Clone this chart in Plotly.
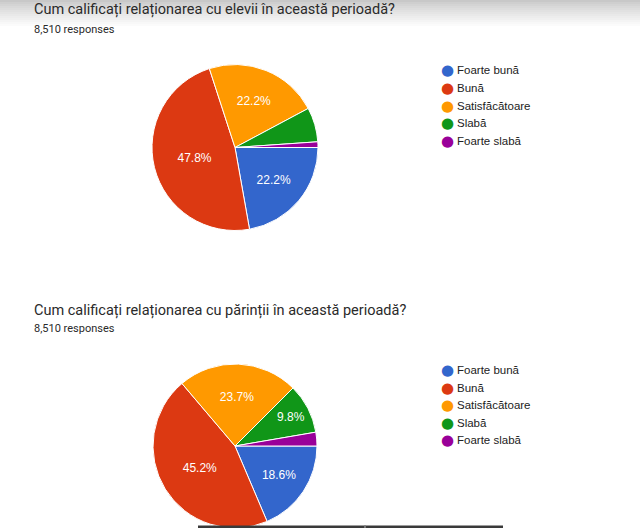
import plotly.graph_objects as go

W, H = 640, 528

categories = ["Foarte bună", "Bună", "Satisfăcătoare", "Slabă", "Foarte slabă"]
colors = ["#3366CC", "#DC3912", "#FF9900", "#109618", "#990099"]

title1 = "Cum calificați relaționarea cu elevii în această perioadă?"
title2 = "Cum calificați relaționarea cu părinții în această perioadă?"
responses1 = "8,510 responses"
responses2 = "8,510 responses"

elevi_pct = [22.2, 47.8, 22.2, 6.7, 1.1]
parinti_pct = [18.6, 45.2, 23.7, 9.8, 2.7]

LABEL_MIN = 7.5  # slices smaller than this show no label


def px_x(x):
    return x / W


def px_y(y):
    return 1 - y / H


def labels_for(vals):
    return [f"{v:.1f}%" if v >= LABEL_MIN else "" for v in vals]


fig = go.Figure()

# pie 1: center (235,147.5), r 83
fig.add_trace(go.Pie(
    labels=categories, values=elevi_pct, text=labels_for(elevi_pct),
    textinfo="text", sort=False, direction="clockwise", rotation=90,
    marker=dict(colors=colors, line=dict(color="white", width=1)),
    textfont=dict(family="Arial", size=12, color="white"),
    insidetextorientation="horizontal", textposition="inside",
    domain=dict(x=[px_x(152), px_x(318)], y=[px_y(230.5), px_y(64.5)]),
    showlegend=False, hoverinfo="label+percent",
))

# pie 2: center (235,446), r ~82
fig.add_trace(go.Pie(
    labels=categories, values=parinti_pct, text=labels_for(parinti_pct),
    textinfo="text", sort=False, direction="clockwise", rotation=90,
    marker=dict(colors=colors, line=dict(color="white", width=1)),
    textfont=dict(family="Arial", size=12, color="white"),
    insidetextorientation="horizontal", textposition="inside",
    domain=dict(x=[px_x(152), px_x(318)], y=[0, px_y(364)]),
    showlegend=False, hoverinfo="label+percent",
))

shapes = []
# top shadow gradient
grad_steps = 13
for i in range(grad_steps):
    g = int(200 + (255 - 200) * (i / grad_steps) ** 0.8)
    shapes.append(dict(type="rect", xref="paper", yref="paper",
                       x0=0, x1=1, y0=px_y(i * 2 + 2), y1=px_y(i * 2),
                       fillcolor=f"rgb({g},{g},{g})", line=dict(width=0),
                       layer="below"))
# bottom dark bar
shapes.append(dict(type="rect", xref="paper", yref="paper",
                   x0=px_x(198), x1=px_x(503), y0=0, y1=px_y(525.5),
                   fillcolor="#3a3a3a", line=dict(width=0), layer="above"))
shapes.append(dict(type="rect", xref="paper", yref="paper",
                   x0=px_x(364), x1=px_x(366), y0=0, y1=px_y(525.5),
                   fillcolor="#777777", line=dict(width=0), layer="above"))

annotations = []


def add_text(x, y, text, size, color="#202124", family="Roboto"):
    annotations.append(dict(x=px_x(x), y=px_y(y), xref="paper", yref="paper",
                            text=text, showarrow=False, xanchor="left",
                            yanchor="middle",
                            font=dict(family=family, size=size, color=color)))


add_text(32, 10, title1, 14.5, color="#2a2a2a")
add_text(32, 29, responses1, 11, color="#2a2a2a")
add_text(32, 310, title2, 14.5, color="#2a2a2a")
add_text(32, 328, responses2, 11, color="#2a2a2a")

legend_rows1 = [70, 88, 105.5, 123, 140.5]
legend_rows2 = [370, 387.5, 405, 422.5, 440]
for rows in (legend_rows1, legend_rows2):
    for cat, col, y in zip(categories, colors, rows):
        annotations.append(dict(x=px_x(439), y=px_y(y), xref="paper", yref="paper",
                                text=f"<span style='color:{col}'>●</span>",
                                showarrow=False, xanchor="left", yanchor="middle",
                                font=dict(family="DejaVu Sans", size=15, color=col)))
        add_text(455, y, cat, 11.5, color="#222222", family="Arial")

fig.update_layout(
    width=W, height=H,
    margin=dict(l=0, r=0, t=0, b=0),
    paper_bgcolor="white", plot_bgcolor="white",
    shapes=shapes, annotations=annotations,
)

fig.write_html("out.html")
